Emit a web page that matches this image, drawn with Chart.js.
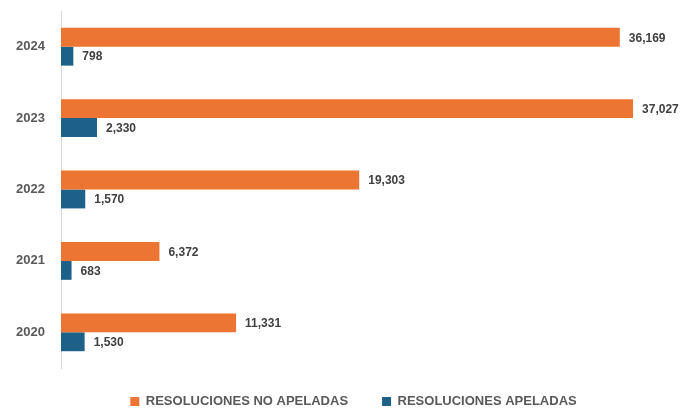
<!DOCTYPE html>
<html>
<head>
<meta charset="utf-8">
<script src="https://cdn.jsdelivr.net/npm/chart.js@4/dist/chart.umd.min.js"></script>
<style>
  html, body { margin: 0; padding: 0; background: #ffffff; }
  #wrap { width: 685px; height: 410px; }
</style>
</head>
<body>
<div id="wrap"><canvas id="c" width="685" height="410"></canvas></div>
<script>
// Years shown on the category axis (top to bottom)
const years = ['2024', '2023', '2022', '2021', '2020'];
// Resolutions not appealed, per year
const noApeladas = [36169, 37027, 19303, 6372, 11331];
// Resolutions appealed, per year
const apeladas = [798, 2330, 1570, 683, 1530];

const seriesNames = ['RESOLUCIONES NO APELADAS', 'RESOLUCIONES APELADAS'];

const fmt = v => v.toLocaleString('en-US');

// Writes each bar's value just past its end
const valueLabels = {
  id: 'valueLabels',
  afterDatasetsDraw(chart) {
    const ctx = chart.ctx;
    ctx.save();
    ctx.font = 'bold 12px "Liberation Sans", Arial, sans-serif';
    ctx.fillStyle = '#404040';
    ctx.textBaseline = 'middle';
    ctx.textAlign = 'left';
    chart.data.datasets.forEach((ds, i) => {
      const meta = chart.getDatasetMeta(i);
      meta.data.forEach((bar, j) => {
        ctx.fillText(fmt(ds.data[j]), bar.x + 9, bar.y + 1);
      });
    });
    ctx.restore();
  }
};

// Moves the legend row to sit centred under the plot area
const legendNudge = {
  id: 'legendNudge',
  afterLayout(chart) {
    const lg = chart.legend;
    if (!lg) return;
    lg.top -= 7;
    lg.bottom = chart.height;
    lg.left += 14; lg.right += 14;
  }
};

new Chart(document.getElementById('c'), {
  type: 'bar',
  data: {
    labels: years,
    datasets: [
      { label: seriesNames[0], data: noApeladas, backgroundColor: '#EC7533' },
      { label: seriesNames[1], data: apeladas, backgroundColor: '#1D6188' }
    ]
  },
  options: {
    indexAxis: 'y',
    responsive: false,
    animation: false,
    layout: { padding: { top: 11, right: 6, left: 0, bottom: 0 } },
    datasets: {
      bar: { categoryPercentage: 0.53, barPercentage: 1.0 }
    },
    scales: {
      x: {
        min: 0,
        max: 40000,
        display: false,
        grid: { display: false }
      },
      y: {
        grid: { display: false, drawTicks: false },
        border: { display: true, color: '#d9d9d9', width: 1 },
        ticks: {
          color: '#595959',
          padding: 16,
          font: { family: '"Liberation Sans", Arial, sans-serif', size: 13, weight: 'bold' }
        },
        afterFit(scale) {
          scale.width = 61;
          scale.paddingTop = 0;
          scale.paddingBottom = 0;
        }
      }
    },
    plugins: {
      legend: {
        position: 'bottom',
        maxHeight: 42,
        labels: {
          color: '#595959',
          boxWidth: 9,
          boxHeight: 9,
          padding: 34,
          font: { family: '"Liberation Sans", Arial, sans-serif', size: 13, weight: 'bold' }
        }
      },
      tooltip: { enabled: false }
    }
  },
  plugins: [valueLabels, legendNudge]
});
</script>
</body>
</html>
